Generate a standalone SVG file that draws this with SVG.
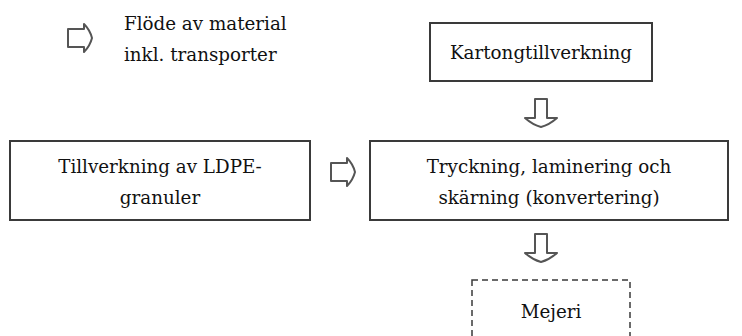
<svg xmlns="http://www.w3.org/2000/svg" width="742" height="336" viewBox="0 0 742 336">
<style>
.box{fill:#fff;stroke:#3a3a3a;stroke-width:2}
.dash{fill:#fff;stroke:#3a3a3a;stroke-width:1.5;stroke-dasharray:6 4}
.arr{fill:#fff;stroke:#555;stroke-width:2;stroke-linejoin:round}
.t{font-family:"DejaVu Serif","Liberation Serif",serif;font-size:18.3px;fill:#111}
.c{text-anchor:middle}
</style>
<defs>
<path id="ra" d="M0,-9 H16 V-14 Q22,-8 24,0 Q22,8 16,14 V9 H0 Z"/>
<path id="da" d="M-6,0 V19 H-16 Q-8,26 0,28 Q8,26 16,19 H6 V0 Z"/>
</defs>
<rect width="742" height="336" fill="#fff"/>
<g id="legend">
<use href="#ra" class="arr" x="68" y="38"/>
<text class="t" x="124" y="30">Flöde av material</text>
<text class="t" x="124" y="61">inkl. transporter</text>
</g>
<g id="kartong">
<rect class="box" x="430" y="23" width="222" height="58"/>
<text class="t c" x="541" y="59">Kartongtillverkning</text>
</g>
<g id="ldpe">
<rect class="box" x="10" y="141" width="300" height="79"/>
<text class="t c" x="160" y="173">Tillverkning av LDPE-</text>
<text class="t c" x="160" y="204">granuler</text>
</g>
<g id="tryckning">
<rect class="box" x="370" y="141" width="358" height="79"/>
<text class="t c" x="549" y="173">Tryckning, laminering och</text>
<text class="t c" x="549" y="204">skärning (konvertering)</text>
</g>
<g id="mejeri">
<rect class="dash" x="472" y="280" width="158" height="70"/>
<text class="t c" x="551" y="318">Mejeri</text>
</g>
<g id="connectors">
<use href="#da" class="arr" x="541" y="99"/>
<use href="#ra" class="arr" x="331" y="172"/>
<use href="#da" class="arr" x="541" y="234"/>
</g>
</svg>
